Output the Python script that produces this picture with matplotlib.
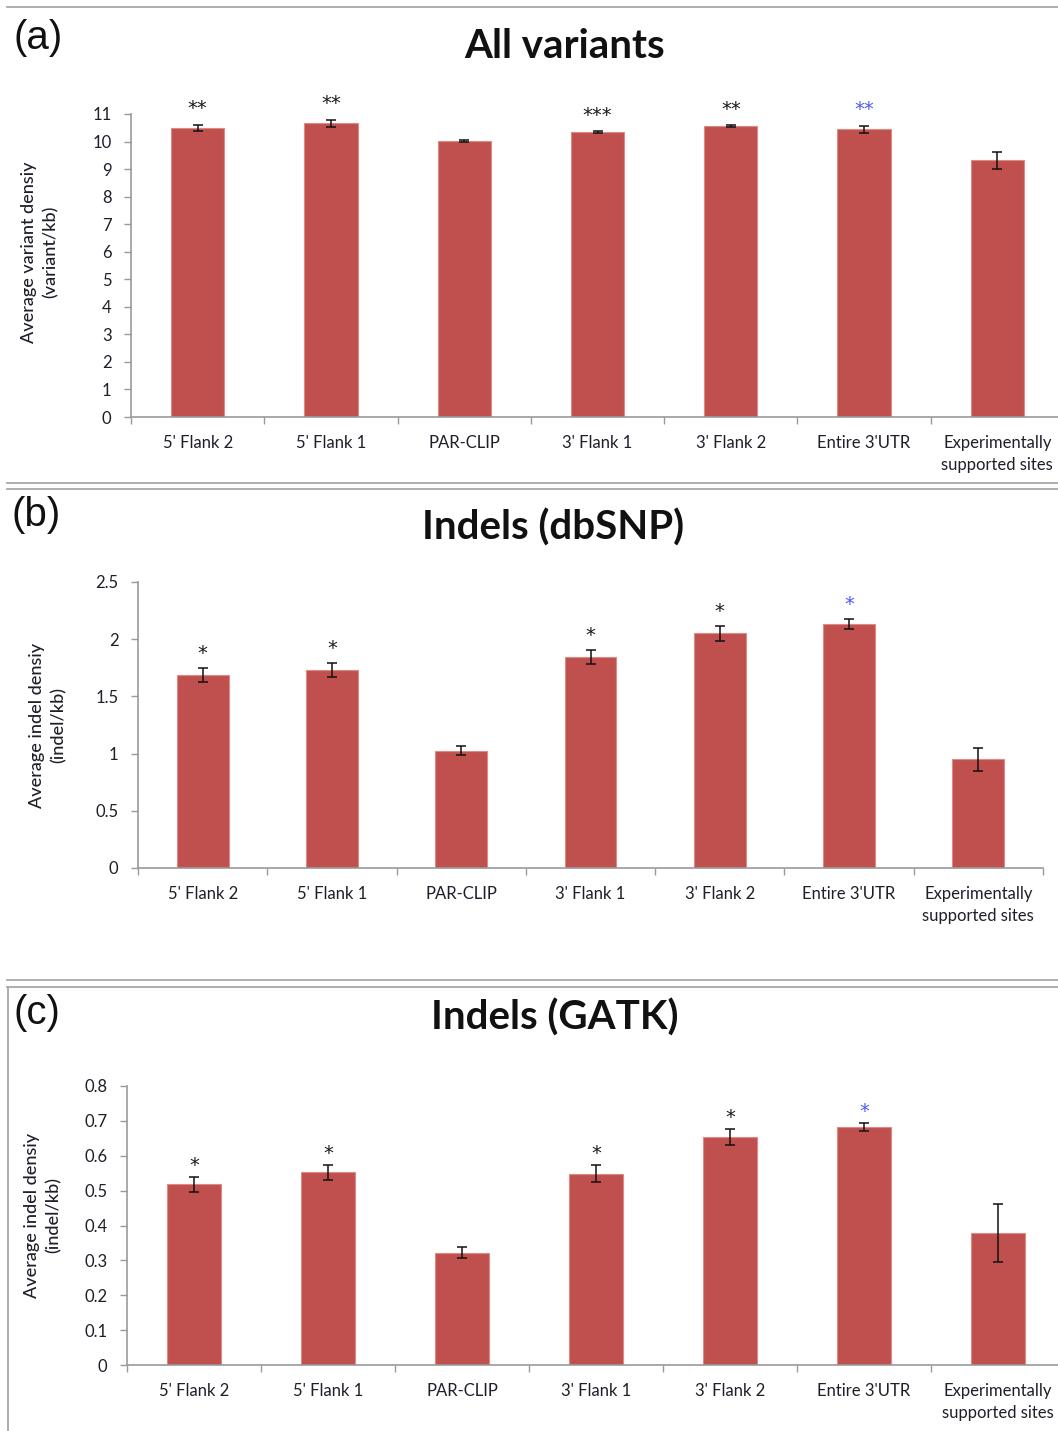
import matplotlib
matplotlib.use('Agg')
import matplotlib.pyplot as plt
from matplotlib.lines import Line2D
from matplotlib.ticker import FuncFormatter, MultipleLocator
import numpy as np

W, H = 1058, 1431

# Data
categories = ["5' Flank 2", "5' Flank 1", "PAR-CLIP", "3' Flank 1",
              "3' Flank 2", "Entire 3'UTR", "Experimentally\nsupported sites"]

all_mean = [10.49, 10.67, 10.02, 10.34, 10.56, 10.44, 9.32]
all_err = [0.12, 0.13, 0.03, 0.03, 0.03, 0.13, 0.30]
all_stars = ['**', '**', '', '***', '**', '**', '']

dbsnp_mean = [1.69, 1.73, 1.025, 1.845, 2.05, 2.135, 0.95]
dbsnp_err = [0.06, 0.06, 0.038, 0.058, 0.062, 0.044, 0.10]
dbsnp_stars = ['*', '*', '', '*', '*', '*', '']

gatk_mean = [0.518, 0.552, 0.322, 0.549, 0.654, 0.683, 0.378]
gatk_err = [0.021, 0.021, 0.016, 0.024, 0.023, 0.011, 0.083]
gatk_stars = ['*', '*', '', '*', '*', '*', '']

star_colors = ['#1a1a1a'] * 5 + ['#4f5bf5', '#1a1a1a']

# Style
plt.rcParams['font.family'] = ['Lato', 'DejaVu Sans']
BAR = '#c0504d'
BAR_EDGE = '#dc8a88'
AXIS = '#9a9a9a'
TXT = '#1f1f2a'
FRAME = '#a8a8a8'


def px_rect(left, right, bottom, top):
    # pixel coords (from top-left) -> figure fraction rect
    return [left / W, (H - bottom) / H, (right - left) / W, (bottom - top) / H]


def draw_panel(ax, means, errs, stars, ymax, ystep, star_off):
    x = np.arange(len(categories))
    ax.bar(x, means, width=0.4, color=BAR, edgecolor=BAR_EDGE, linewidth=0.8, zorder=2)
    ax.errorbar(x, means, yerr=errs, fmt='none', ecolor='#111111',
                elinewidth=1.1, capsize=3.5, capthick=1.1, zorder=3)
    for i, s in enumerate(stars):
        if s:
            ax.annotate(s, (x[i], means[i] + errs[i]), xytext=(0, star_off),
                        textcoords='offset points', ha='center', va='baseline',
                        fontsize=14, color=star_colors[i],
                        family=['DejaVu Sans'])

    ax.set_xlim(-0.5, len(categories) - 0.5)
    ax.set_ylim(0, ymax)
    ax.yaxis.set_major_locator(MultipleLocator(ystep))
    ax.yaxis.set_major_formatter(FuncFormatter(lambda v, p: f'{v:g}'))

    ax.set_xticks(x)
    ax.set_xticklabels(categories, fontsize=12, color=TXT, linespacing=1.45)
    ax.set_xticks(np.arange(-0.5, len(categories)), minor=True)
    ax.tick_params(axis='x', which='major', length=0, pad=13)
    ax.tick_params(axis='x', which='minor', length=5, width=1, color=AXIS, direction='out')
    ax.tick_params(axis='y', length=5, width=1, color=AXIS, direction='out',
                   labelsize=12, labelcolor=TXT, pad=9)

    for side in ('top', 'right'):
        ax.spines[side].set_visible(False)
    for side in ('left', 'bottom'):
        ax.spines[side].set_color(AXIS)
        ax.spines[side].set_linewidth(1.2)
    ax.set_facecolor('none')


fig = plt.figure(figsize=(W / 100, H / 100), dpi=100)

# Panel frame lines
def hline(y, x0=7, x1=W):
    fig.add_artist(Line2D([x0 / W, x1 / W], [1 - y / H, 1 - y / H],
                          color=FRAME, linewidth=1.3))

for yy in (7, 483, 489, 980, 987):
    hline(yy)
fig.add_artist(Line2D([8 / W, 8 / W], [1 - 987 / H, 0], color=FRAME, linewidth=1.3))

ax_a = fig.add_axes(px_rect(131, 1064, 417, 114))
ax_b = fig.add_axes(px_rect(138, 1043, 868, 582))
ax_c = fig.add_axes(px_rect(127, 1065, 1365, 1086))

draw_panel(ax_a, all_mean, all_err, all_stars, 11, 1, 7.5)
draw_panel(ax_b, dbsnp_mean, dbsnp_err, dbsnp_stars, 2.5, 0.5, 6.5)
draw_panel(ax_c, gatk_mean, gatk_err, gatk_stars, 0.8, 0.1, 4.5)

# Titles
fig.text(565 / W, 1 - 47 / H, 'All variants', ha='center', va='center',
         fontsize=29, fontweight='bold', color='#111111')
fig.text(553 / W, 1 - 528 / H, 'Indels (dbSNP)', ha='center', va='center',
         fontsize=29, fontweight='bold', color='#111111')
fig.text(555 / W, 1 - 1018 / H, 'Indels (GATK)', ha='center', va='center',
         fontsize=29, fontweight='bold', color='#111111')

# Panel letters
for lbl, xx, yy in (('(a)', 14, 38), ('(b)', 12, 515), ('(c)', 13, 1013)):
    fig.text(xx / W, 1 - yy / H, lbl, ha='left', va='center', fontsize=29,
             family=['Liberation Sans', 'DejaVu Sans'], color='#111111')

# Y labels
ylabels = [('Average variant densiy\n(variant/kb)', 40, 252),
           ('Average indel densiy\n(indel/kb)', 48, 725),
           ('Average indel densiy\n(indel/kb)', 43, 1215)]
for txt, xx, yy in ylabels:
    fig.text(xx / W, 1 - yy / H, txt, rotation=90, ha='center', va='center',
             multialignment='center', fontsize=13, color=TXT, linespacing=1.45,
             fontweight='medium')

fig.savefig('out.png', dpi=100, facecolor='white')
